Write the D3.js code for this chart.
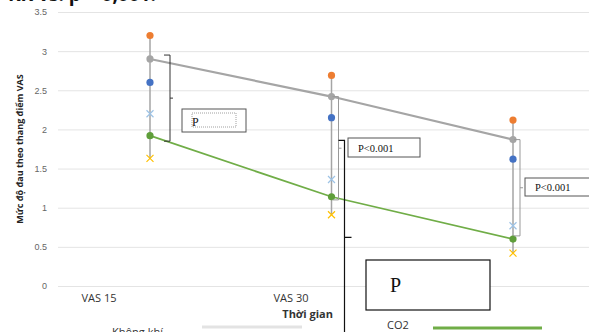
<!DOCTYPE html>
<html>
<head>
<meta charset="utf-8">
<script src="https://cdn.jsdelivr.net/npm/d3@7"></script>
<style>
    body { margin: 0; background: #fff; }
    svg { display: block; font-family: 'Open Sans', 'Noto Sans', sans-serif; }
</style>
</head>
<body>
<script>
const width = 589;
const height = 332;

const categories = ['VAS 15', 'VAS 30', 'VAS 45'];
const airMean = [2.9, 2.42, 1.87];
const airUpper = [3.2, 2.69, 2.12];
const airLower = [2.6, 2.15, 1.62];
const co2Mean = [1.92, 1.14, 0.6];
const co2Upper = [2.2, 1.36, 0.77];
const co2Lower = [1.63, 0.91, 0.42];
const yTicks = [0, 0.5, 1, 1.5, 2, 2.5, 3, 3.5];
const pLabels = ['P', 'P<0.001', 'P<0.001'];

const margin = { top: 12, right: 0, bottom: 46, left: 58 };

const svg = d3.select('body')
    .append('svg')
    .attr('width', width)
    .attr('height', height);

const x = d3.scalePoint()
    .domain(categories)
    .range([150, 513]);

// category labels sit left of the points in the original (last one is hidden under the big box)
const xLabel = d3.scaleOrdinal()
    .domain(categories)
    .range([99, 291, 440]);

const y = d3.scaleLinear()
    .domain([0, 3.5])
    .range([height - margin.bottom, margin.top]);

// cropped title at the very top
svg.append('text')
    .attr('x', 8)
    .attr('y', 1)
    .style('font-size', '19px')
    .style('font-weight', 'bold')
    .attr('fill', '#111')
    .text('KK vs. p = 0,001.');

// gridlines + y labels
const yAxis = svg.append('g')
    .attr('transform', `translate(${margin.left},0)`)
    .call(d3.axisLeft(y).tickValues(yTicks).tickSize(-(width - margin.left)).tickFormat(d3.format('')));

yAxis.select('.domain').remove();
yAxis.selectAll('.tick line').attr('stroke', '#e4e4e4');
yAxis.selectAll('.tick text')
    .attr('x', -11)
    .attr('fill', '#666')
    .style('font-size', '9px');

svg.append('text')
    .attr('transform', `translate(23, ${y(1.75)}) rotate(-90)`)
    .attr('text-anchor', 'middle')
    .style('font-size', '9px')
    .style('font-weight', 'bold')
    .attr('fill', '#222')
    .text('Mức độ đau theo thang điểm VAS');

// category labels
svg.append('g')
    .selectAll('text')
    .data(categories)
    .join('text')
    .attr('x', d => xLabel(d))
    .attr('y', 302)
    .attr('text-anchor', 'middle')
    .style('font-size', '11px')
    .attr('fill', '#333')
    .text(d => d);

svg.append('text')
    .attr('x', 333)
    .attr('y', 318)
    .attr('text-anchor', 'end')
    .style('font-size', '11px')
    .style('font-weight', 'bold')
    .attr('fill', '#333')
    .text('Thời gian');

// vertical whiskers
svg.append('g')
    .selectAll('line')
    .data(categories)
    .join('line')
    .attr('x1', d => x(d))
    .attr('x2', d => x(d))
    .attr('y1', (d, i) => y(airUpper[i]))
    .attr('y2', (d, i) => y(co2Lower[i]))
    .attr('stroke', '#a5a5a5')
    .attr('stroke-width', 1.5);

const line = d3.line()
    .x((d, i) => x(categories[i]))
    .y(d => y(d));

svg.append('path')
    .datum(airMean)
    .attr('d', line)
    .attr('fill', 'none')
    .attr('stroke', '#a5a5a5')
    .attr('stroke-width', 2.2);

svg.append('path')
    .datum(co2Mean)
    .attr('d', line)
    .attr('fill', 'none')
    .attr('stroke', '#70ad47')
    .attr('stroke-width', 1.8);

const dots = (values, color) => {
    svg.append('g')
        .selectAll('circle')
        .data(values)
        .join('circle')
        .attr('cx', (d, i) => x(categories[i]))
        .attr('cy', d => y(d))
        .attr('r', 3.6)
        .attr('fill', color);
};

const crosses = (values, color) => {
    svg.append('g')
        .selectAll('path')
        .data(values)
        .join('path')
        .attr('d', (d, i) => {
            const cx = x(categories[i]);
            const cy = y(d);
            return `M${cx - 3.5},${cy - 3.5}L${cx + 3.5},${cy + 3.5}M${cx - 3.5},${cy + 3.5}L${cx + 3.5},${cy - 3.5}`;
        })
        .attr('stroke', color)
        .attr('stroke-width', 1.2);
};

dots(airUpper, '#ed7d31');
dots(airLower, '#4472c4');
dots(airMean, '#a5a5a5');
crosses(co2Upper, '#9dc3e6');
crosses(co2Lower, '#ffc000');
dots(co2Mean, '#5f9e3a');

// brackets between the two series
const notes = svg.append('g').attr('fill', 'none');

const bracket = (cx, top, bottom, color) => {
    const bx = cx + 7;
    const mid = (y(top) + y(bottom)) / 2;
    notes.append('path')
        .attr('d', `M${cx + 1},${y(top)}H${bx}V${y(bottom)}H${cx + 1}M${bx},${mid}H${bx + 3}`)
        .attr('stroke', color)
        .attr('stroke-width', 1);
};

bracket(x(categories[0]) + 13, airMean[0] + 0.05, co2Mean[0] - 0.07, '#333');
bracket(x(categories[1]), airMean[1], co2Mean[1] - 0.04, '#999');
bracket(x(categories[2]), airMean[2], co2Mean[2] + 0.04, '#999');

// black bracket running down past the axis at VAS 30
const bx = x(categories[1]) + 13;
notes.append('path')
    .attr('d', `M${bx - 6},${y(1.86)}H${bx}V${height}M${bx},${y(0.62)}H${bx + 7}`)
    .attr('stroke', '#111')
    .attr('stroke-width', 1.2);

// p value boxes
const pBox = (px, py, w, h, label, size) => {
    const g = svg.append('g');
    g.append('rect')
        .attr('x', px)
        .attr('y', py)
        .attr('width', w)
        .attr('height', h)
        .attr('fill', '#fff')
        .attr('stroke', '#555')
        .attr('stroke-width', 1);
    g.append('text')
        .attr('x', px + 10)
        .attr('y', py + h - 5)
        .style('font-family', "'Liberation Serif', 'DejaVu Serif', serif")
        .style('font-size', `${size}px`)
        .attr('fill', '#111')
        .text(label);
    return g;
};

const box1 = pBox(182, 109, 64, 23, pLabels[0], 12);
box1.select('text').attr('y', 126);
box1.insert('rect', 'text')
    .attr('x', 192)
    .attr('y', 113)
    .attr('width', 44)
    .attr('height', 14)
    .attr('fill', 'none')
    .attr('stroke', '#888')
    .attr('stroke-dasharray', '1,1')
    .attr('stroke-width', 0.8);

pBox(348, 138, 72, 19, pLabels[1], 10.5);
pBox(525, 178, 70, 18, pLabels[2], 10.5);

const big = pBox(366, 260, 124, 50, 'P', 20);
big.select('rect').attr('stroke', '#111').attr('stroke-width', 1.2);
big.select('text').attr('x', 390).attr('y', 292);

// legend, cut off at the bottom
svg.append('text')
    .attr('x', 112)
    .attr('y', 336)
    .style('font-size', '11px')
    .attr('fill', '#333')
    .text('Không khí');

svg.append('line')
    .attr('x1', 202)
    .attr('x2', 302)
    .attr('y1', 327)
    .attr('y2', 327)
    .attr('stroke', '#e3e3e3')
    .attr('stroke-width', 3);

svg.append('text')
    .attr('x', 387)
    .attr('y', 329)
    .style('font-size', '11px')
    .attr('fill', '#333')
    .text('CO2');

svg.append('line')
    .attr('x1', 433)
    .attr('x2', 542)
    .attr('y1', 328)
    .attr('y2', 328)
    .attr('stroke', '#70ad47')
    .attr('stroke-width', 3);
</script>
</body>
</html>
